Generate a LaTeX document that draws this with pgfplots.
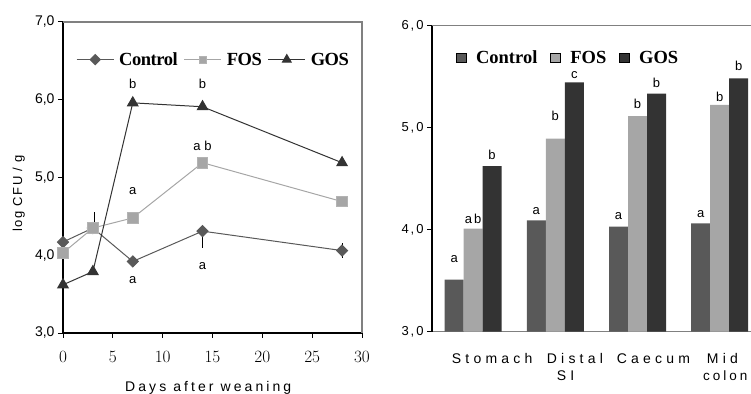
\documentclass[border=0pt]{standalone}
\usepackage{fontspec}
\setmainfont{Liberation Sans}
\newfontfamily\legfont[LetterSpace=-2.5]{Liberation Serif}
\newfontfamily\legfontR{Liberation Serif}
\newfontfamily\spacedA[LetterSpace=22]{Liberation Sans}
\newfontfamily\spacedB[LetterSpace=30]{Liberation Sans}
\newfontfamily\spacedE[LetterSpace=22]{Liberation Sans}
\newfontfamily\spacedC[LetterSpace=12]{Liberation Sans}
\newfontfamily\spacedD[LetterSpace=15]{Liberation Sans}
\usepackage{pgfplots}
\pgfplotsset{compat=1.18}
\definecolor{cctrl}{HTML}{595959}
\definecolor{cfos}{HTML}{A6A6A6}
\definecolor{cgos}{HTML}{333333}
\definecolor{cframe}{HTML}{808080}
\begin{document}
\begin{tikzpicture}
\useasboundingbox (0,0) rectangle (751bp,394bp);
% ---------------- left panel ----------------
\begin{axis}[
  at={(63bp,61bp)}, anchor=south west, scale only axis,
  width=299bp, height=311bp,
  xmin=0, xmax=30, ymin=3, ymax=7,
  axis x line*=bottom, axis y line*=left,
  axis line style={black, line width=1.3bp, -},
  xtick={0,5,...,30}, ytick={3,4,5,6,7},
  yticklabels={{3,0},{4,0},{5,0},{6,0},{7,0}},
  tick align=outside, major tick length=5bp,
  tick style={black, line width=1bp},
  xticklabel style={font=\fontsize{16bp}{16bp}\selectfont, yshift=-10bp},
  yticklabel style={font=\fontsize{14bp}{14bp}\selectfont},
  clip=false,
  legend columns=3,
  legend style={at={(0.0435,0.879)}, anchor=west, draw=none, fill=none,
    font=\legfont\bfseries\fontsize{18.5bp}{18.5bp}\selectfont,
    inner sep=0pt,
    /tikz/every odd column/.append style={column sep=5bp},
    /tikz/every even column/.append style={column sep=6bp},
    nodes={inner xsep=0pt}},
  legend image code/.code={\draw[mark repeat=2,mark phase=2,#1] plot coordinates {(0bp,0bp) (18.5bp,0bp) (37bp,0bp)};},
]
\addplot[cctrl, line width=1bp, mark=square*, mark size=3.9bp,
  mark options={rotate=45, fill=cctrl, draw=cctrl, solid},
  legend image post style={mark size=3.6bp},
  error bars/.cd, y dir=both, y explicit, error mark=none,
  error bar style={black, line width=1bp}]
  coordinates {(0,4.17) (3,4.35) (7,3.92) (14,4.31) += (0,0) -= (0,0.22) (28,4.06) +- (0,0.1)};
\addlegendentry{Control}
\addplot[cfos, line width=1bp, mark=square*, mark size=5.3bp,
  mark options={fill=cfos, draw=cfos!85!white, solid},
  legend image post style={mark size=3.6bp}]
  coordinates {(0,4.03) (3,4.35) (7,4.48) (14,5.19) (28,4.69)};
\addlegendentry{FOS}
\addplot[cgos, line width=1bp, mark=triangle*, mark size=6bp,
  mark options={fill=cgos, draw=cgos, solid},
  legend image post style={mark size=5bp}]
  coordinates {(0,3.62) (3,3.79) (7,5.96) (14,5.91) (28,5.19)};
\addlegendentry{GOS}
\addplot[draw=none, forget plot, error bars/.cd, y dir=plus, y explicit, error mark=none,
  error bar style={black, line width=1bp}]
  coordinates {(3.15,4.35) += (0,0.21)};
\draw[cframe, line width=1.2bp] (rel axis cs:0,1) -- (rel axis cs:1,1) -- (rel axis cs:1,0);
\begin{scope}[every node/.style={font=\fontsize{13bp}{13bp}\selectfont}]
\node at (axis cs:7,6.20) {b};
\node at (axis cs:14,6.20) {b};
\node at (axis cs:14,5.405) {a b};
\node at (axis cs:7,4.83) {a};
\node at (axis cs:7,3.68) {a};
\node at (axis cs:14,3.86) {a};
\end{scope}
\end{axis}
\node[rotate=90, anchor=base west, inner sep=0pt, font=\spacedC\fontsize{13bp}{13bp}\selectfont] at (22bp,162bp) {log CFU / g};
\node[anchor=base west, inner sep=0pt, font=\spacedA\fontsize{14bp}{14bp}\selectfont] at (125bp,2.3bp) {Days after weaning};
% ---------------- right panel ----------------
\begin{axis}[
  at={(432bp,62.3bp)}, anchor=south west, scale only axis,
  width=328.8bp, height=306.4bp,
  xmin=-0.5, xmax=3.5, ymin=3, ymax=6,
  ybar=0pt, bar width=19bp,
  axis x line*=bottom, axis y line*=left,
  x axis line style={cframe, line width=1.2bp, -},
  y axis line style={black, line width=1.5bp, -},
  xtick={0,1,2,3}, xticklabels={}, major x tick style={draw=none},
  ytick={3,4,5,6}, yticklabels={{3,0},{4,0},{5,0},{6,0}},
  tick align=outside, major tick length=5bp,
  tick style={black, line width=1bp},
  yticklabel style={font=\spacedD\fontsize{13bp}{13bp}\selectfont},
  clip=false,
  legend columns=3,
  legend style={at={(0.073,0.893)}, anchor=west, draw=none, fill=none,
    font=\legfontR\bfseries\fontsize{18.5bp}{18.5bp}\selectfont,
    inner sep=0pt,
    /tikz/every odd column/.append style={column sep=10bp},
    /tikz/every even column/.append style={column sep=13bp},
    nodes={inner xsep=0pt}},
  legend image code/.code={\draw[#1] (0bp,-4.5bp) rectangle (9.5bp,5bp);},
]
\addplot[fill=cctrl, draw=none] coordinates {(0,3.51) (1,4.09) (2,4.03) (3,4.06)};
\addlegendentry{Control}
\addplot[fill=cfos, draw=none] coordinates {(0,4.01) (1,4.89) (2,5.11) (3,5.22)};
\addlegendentry{FOS}
\addplot[fill=cgos, draw=none] coordinates {(0,4.62) (1,5.44) (2,5.33) (3,5.48)};
\addlegendentry{GOS}
\draw[cframe, line width=1.2bp] (rel axis cs:0,1) -- (rel axis cs:1.2,1);
\begin{scope}[every node/.style={font=\fontsize{13bp}{13bp}\selectfont}]
\node at (axis cs:-0.231,3.71) {a};
\node at (axis cs:0,4.10) {a\,b};
\node at (axis cs:0.231,4.73) {b};
\node at (axis cs:0.769,4.185) {a};
\node at (axis cs:1,5.11) {b};
\node at (axis cs:1.231,5.51) {c};
\node at (axis cs:1.769,4.13) {a};
\node at (axis cs:2,5.23) {b};
\node at (axis cs:2.231,5.44) {b};
\node at (axis cs:2.769,4.15) {a};
\node at (axis cs:3,5.30) {b};
\node at (axis cs:3.231,5.60) {b};
\end{scope}
\end{axis}
\begin{scope}[every node/.style={anchor=base west, inner sep=0pt, font=\spacedB\fontsize{14bp}{14bp}\selectfont}]
\node at (451.7bp,30.7bp) {Stomach};
\node at (546.7bp,30.7bp) {Distal};
\node at (556.7bp,14bp) {SI};
\node at (616.7bp,30.7bp) {Caecum};
\node at (706.7bp,30.7bp) {Mid};
\node[font=\spacedE\fontsize{13.5bp}{13.5bp}\selectfont] at (703bp,14bp) {colon};
\end{scope}
\end{tikzpicture}
\end{document}
